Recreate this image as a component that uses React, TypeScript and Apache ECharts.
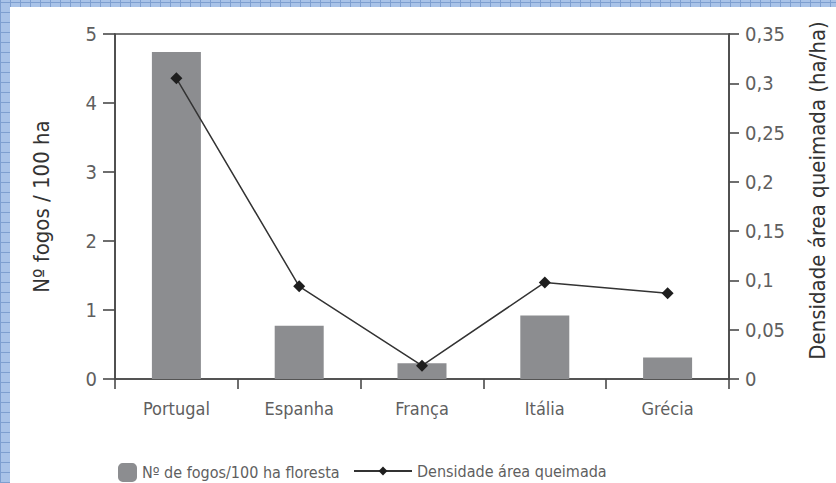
import React, { useEffect, useRef } from "react";
import * as echarts from "echarts";

const categories = ["Portugal", "Espanha", "França", "Itália", "Grécia"];
const fogosValues = [4.74, 0.77, 0.23, 0.92, 0.31];
const densidadeValues = [0.305, 0.094, 0.0135, 0.098, 0.087];
const barName = "Nº de fogos/100 ha floresta";
const lineName = "Densidade área queimada";
const leftAxisName = "Nº fogos / 100 ha";
const rightAxisName = "Densidade área queimada (ha/ha)";

const FONT = "'DejaVu Sans Condensed', 'Liberation Sans Narrow', sans-serif";
const TXT = "#5f5f5f";
const AX = "#4a4a4a";

export default function App() {
  const ref = useRef<HTMLDivElement>(null);
  useEffect(() => {
    if (!ref.current) return;
    const chart = echarts.init(ref.current, undefined, { renderer: "svg" });
    const fmt = (v: number) => String(+v.toFixed(2)).replace(".", ",");
    chart.setOption({
      animation: false,
      textStyle: { fontFamily: FONT },
      grid: {
        left: 115,
        right: 99,
        top: 34,
        bottom: 104,
        show: true,
        borderColor: AX,
        borderWidth: 1.6,
        backgroundColor: "transparent",
      },
      legend: [
        {
          data: [barName],
          left: 113,
          top: 458,
          itemWidth: 19,
          itemHeight: 19,
          textStyle: { color: TXT, fontSize: 16, fontFamily: FONT },
        },
        {
          data: [lineName],
          left: 348,
          top: 458,
          itemWidth: 58,
          itemHeight: 11,
          textStyle: { color: TXT, fontSize: 16, fontFamily: FONT },
        },
      ],
      xAxis: {
        type: "category",
        data: categories,
        axisLine: { lineStyle: { color: AX, width: 1.6 } },
        axisTick: { show: true, length: 10, interval: 0, lineStyle: { color: AX, width: 1.6 } },
        axisLabel: { color: TXT, fontSize: 18, margin: 20, fontFamily: FONT },
      },
      yAxis: [
        {
          type: "value",
          min: 0,
          max: 5,
          interval: 1,
          name: leftAxisName,
          nameLocation: "middle",
          nameRotate: 90,
          nameGap: 63,
          nameTextStyle: { color: "#333", fontSize: 22, fontFamily: FONT },
          axisLine: { show: true, lineStyle: { color: AX, width: 1.6 } },
          axisTick: { show: true, length: 12, lineStyle: { color: AX, width: 1.6 } },
          axisLabel: { color: TXT, fontSize: 20, margin: 18, fontFamily: FONT },
          splitLine: { show: false },
        },
        {
          type: "value",
          min: 0,
          max: 0.35,
          interval: 0.05,
          position: "right",
          name: rightAxisName,
          nameLocation: "middle",
          nameRotate: 90,
          nameGap: 77,
          nameTextStyle: { color: "#333", fontSize: 22, fontFamily: FONT, padding: [0, 0, 0, 32] },
          axisLine: { show: true, lineStyle: { color: AX, width: 1.6 } },
          axisTick: { show: true, length: 10, lineStyle: { color: AX, width: 1.6 } },
          axisLabel: { color: TXT, fontSize: 20, margin: 16, fontFamily: FONT, formatter: fmt },
          splitLine: { show: false },
        },
      ],
      series: [
        {
          name: barName,
          type: "bar",
          data: fogosValues,
          barWidth: 49,
          itemStyle: { color: "#8c8d90" },
          yAxisIndex: 0,
        },
        {
          name: lineName,
          type: "line",
          data: densidadeValues,
          yAxisIndex: 1,
          symbol: "diamond",
          symbolSize: 12,
          itemStyle: { color: "#1e1e1e" },
          lineStyle: { color: "#333", width: 1.5 },
        },
      ],
    });
    return () => chart.dispose();
  }, []);

  const gridBg =
    "repeating-linear-gradient(0deg, #7e9fd0 0px, #7e9fd0 1px, transparent 1px, transparent 10px)," +
    "repeating-linear-gradient(90deg, #7e9fd0 0px, #7e9fd0 1px, transparent 1px, transparent 10px), #a9c3e8";

  return (
    <div style={{ position: "fixed", left: 0, top: 0, width: 836, height: 483, background: gridBg, overflow: "hidden" }}>
      <div style={{ position: "absolute", left: 10, top: 7, right: 0, bottom: 0, background: "#ffffff" }} />
      <div ref={ref} style={{ position: "absolute", left: 0, top: 0, width: 836, height: 483 }} />
    </div>
  );
}
